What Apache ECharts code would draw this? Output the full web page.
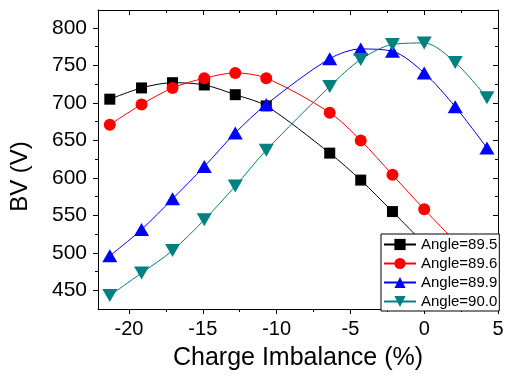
<!DOCTYPE html>
<html>
<head>
<meta charset="utf-8">
<script src="https://cdn.jsdelivr.net/npm/echarts@6/dist/echarts.min.js"></script>
<style>
  html, body { margin: 0; padding: 0; background: #fff; }
  #chart { width: 508px; height: 382px; }
</style>
</head>
<body>
<div id="chart"></div>
<script>
// charge imbalance (%) of each measured point
const imbalance = [-21.3, -19.15, -17.05, -14.9, -12.8, -10.7, -6.4, -4.3, -2.15, 0, 2.1, 4.25]

// breakdown voltage (V) per angle
const bv895 = [705, 720, 727, 724, 711, 696, 633, 597, 555, 512]
const bv896 = [671, 698, 720, 733, 740, 733, 687, 650, 604, 558, 515]
const bv899 = [496, 531, 572, 615, 660, 698, 759, 772, 769, 740, 695, 640]
const bv900 = [443, 473, 503, 544, 589, 637, 722, 758, 778, 780, 754, 707]

const xMajor = [-20, -15, -10, -5, 0, 5]
const xMinor = [-17.5, -12.5, -7.5, -2.5, 2.5]
const yMajor = [450, 500, 550, 600, 650, 700, 750, 800]
const yMinor = [475, 525, 575, 625, 675, 725, 775]

const font = 'Liberation Sans, Arial, sans-serif'

const pairs = (ys) => ys.map((y, i) => [imbalance[i], y])

const xRange = { min: -22.1, max: 5 }
const yRange = { min: 425, max: 824 }

function xAxisDef(position, ticks, len, inside, main) {
  return {
    type: 'value',
    position: position,
    ...xRange,
    splitLine: { show: false },
    axisLine: { show: main, onZero: false, lineStyle: { color: '#000', width: 1 } },
    axisTick: { customValues: ticks, length: len, inside: inside, lineStyle: { color: '#000' } },
    axisLabel: { show: false }
  }
}

function yAxisDef(position, ticks, len, inside, main) {
  return {
    type: 'value',
    position: position,
    ...yRange,
    splitLine: { show: false },
    axisLine: { show: main, onZero: false, lineStyle: { color: '#000', width: 1 } },
    axisTick: { customValues: ticks, length: len, inside: inside, lineStyle: { color: '#000' } },
    axisLabel: { show: false }
  }
}

const xMain = xAxisDef('bottom', xMajor, 5, false, true)
xMain.axisLabel = { show: true, customValues: xMajor, fontSize: 20, color: '#000', fontFamily: font, margin: 10 }
xMain.name = 'Charge Imbalance (%)'
xMain.nameLocation = 'middle'
xMain.nameGap = 37
xMain.nameTextStyle = { fontSize: 25, color: '#000', fontFamily: font }

const yMain = yAxisDef('left', yMajor, 5, false, true)
yMain.axisLabel = { show: true, customValues: yMajor, fontSize: 21, color: '#000', fontFamily: font, margin: 11 }
yMain.name = 'BV (V)'
yMain.nameLocation = 'middle'
yMain.nameGap = 66
yMain.nameTextStyle = { fontSize: 24, color: '#000', fontFamily: font, padding: [0, 34, 0, 0] }

function lineSeries(name, data, color, symbol, size, rotate) {
  return {
    name: name,
    type: 'line',
    data: pairs(data),
    smooth: 0.3,
    symbol: symbol,
    symbolSize: size,
    symbolRotate: rotate || 0,
    itemStyle: { color: color },
    lineStyle: { color: color, width: 1 },
    emphasis: { disabled: true }
  }
}

const option = {
  animation: false,
  backgroundColor: '#fff',
  grid: { left: 91, right: 10, top: 10, bottom: 73 },
  xAxis: [
    xMain,
    xAxisDef('bottom', xMinor, 3, false, false),
    xAxisDef('top', xMajor, 5, true, true),
    xAxisDef('top', xMinor, 3, true, false)
  ],
  yAxis: [
    yMain,
    yAxisDef('left', yMinor, 3, false, false),
    yAxisDef('right', yMajor, 5, true, true),
    yAxisDef('right', yMinor, 3, true, false)
  ],
  legend: {
    orient: 'vertical',
    left: 381,
    top: 234,
    padding: [3, 2, 2, 2],
    itemWidth: 32,
    itemHeight: 14,
    itemGap: 4,
    backgroundColor: '#fff',
    borderColor: '#000',
    borderWidth: 1,
    textStyle: { fontSize: 15, color: '#000', fontFamily: font },
    data: ['Angle=89.5', 'Angle=89.6', 'Angle=89.9', 'Angle=90.0']
  },
  series: [
    lineSeries('Angle=89.5', bv895, '#000000', 'rect', 11),
    lineSeries('Angle=89.6', bv896, '#ff0000', 'circle', 12),
    lineSeries('Angle=89.9', bv899, '#0000ff', 'triangle', [15, 13]),
    lineSeries('Angle=90.0', bv900, '#008080', 'triangle', [15, 13], 180)
  ]
}

const chart = echarts.init(document.getElementById('chart'))
chart.setOption(option)
</script>
</body>
</html>
